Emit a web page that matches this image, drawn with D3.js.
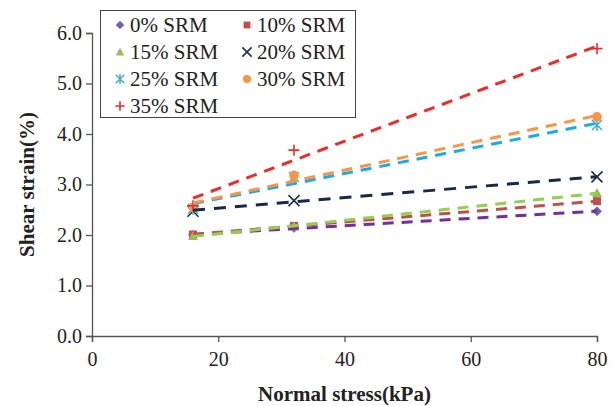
<!DOCTYPE html>
<html>
<head>
<meta charset="utf-8">
<script src="https://cdn.jsdelivr.net/npm/d3@7"></script>
<style>
  html, body { margin: 0; padding: 0; background: #fff; }
  svg { display: block; font-family: "Liberation Serif", "Times New Roman", serif; }
</style>
</head>
<body>
<svg id="chart" width="615" height="406"></svg>
<script>
// Normal stress levels (kPa)
const normalStress = [16, 32, 80];

// Shear strain (%) for each SRM content
const srm0  = [2.00, 2.14, 2.47];
const srm10 = [2.01, 2.18, 2.67];
const srm15 = [1.98, 2.17, 2.83];
const srm20 = [2.47, 2.68, 3.15];
const srm25 = [2.52, 3.15, 4.18];
const srm30 = [2.55, 3.18, 4.34];
const srm35 = [2.58, 3.68, 5.69];

const seriesNames = ["0% SRM", "10% SRM", "15% SRM", "20% SRM", "25% SRM", "30% SRM", "35% SRM"];
const xTicks = [0, 20, 40, 60, 80];
const yTicks = [0, 1, 2, 3, 4, 5, 6];

const series = [
  { name: seriesNames[0], values: srm0,  marker: "diamond",  mColor: "#7360A8", lColor: "#7030A0" },
  { name: seriesNames[1], values: srm10, marker: "square",   mColor: "#C0504D", lColor: "#C0504D" },
  { name: seriesNames[2], values: srm15, marker: "triangle", mColor: "#9BBB59", lColor: "#92D050" },
  { name: seriesNames[3], values: srm20, marker: "x",        mColor: "#1F2F4F", lColor: "#172A48" },
  { name: seriesNames[4], values: srm25, marker: "asterisk", mColor: "#4BACC6", lColor: "#1EAAE6" },
  { name: seriesNames[5], values: srm30, marker: "circle",   mColor: "#F79646", lColor: "#F7964A" },
  { name: seriesNames[6], values: srm35, marker: "plus",     mColor: "#EE2B2B", lColor: "#EE2A2A" }
];

const svg = d3.select("#chart");
const x = d3.scaleLinear().domain([0, 80]).range([92, 597]);
const y = d3.scaleLinear().domain([0, 6]).range([336, 33]);
const axisColor = "#555";

// Axes
const xAxis = svg.append("g").attr("transform", `translate(0,${y(0)})`)
  .call(d3.axisBottom(x).tickValues(xTicks).tickFormat(d3.format("d")).tickSizeOuter(0).tickSize(6).tickPadding(5));
const yAxis = svg.append("g").attr("transform", `translate(${x(0)},0)`)
  .call(d3.axisLeft(y).tickValues(yTicks).tickFormat(d3.format(".1f")).tickSizeOuter(0).tickSize(6).tickPadding(4));
[xAxis, yAxis].forEach(g => {
  g.select(".domain").attr("stroke", axisColor).attr("stroke-width", 1.3);
  g.selectAll(".tick line").attr("stroke", axisColor).attr("stroke-width", 1.3);
  g.selectAll(".tick text").attr("fill", "#222").style("font-size", "20px")
    .style("font-family", "'Liberation Serif', 'Times New Roman', serif");
});
xAxis.selectAll(".tick text").attr("dy", "0.95em");

// Axis titles
svg.append("text").attr("x", (x(0) + x(80)) / 2).attr("y", 401)
  .attr("text-anchor", "middle").attr("font-weight", "bold").attr("font-size", 21).attr("fill", "#222")
  .text("Normal stress(kPa)");
svg.append("text").attr("transform", `translate(34,${(y(0) + y(6)) / 2}) rotate(-90)`)
  .attr("text-anchor", "middle").attr("font-weight", "bold").attr("font-size", 21).attr("fill", "#222")
  .text("Shear strain(%)");

// Least-squares linear trend for each series
function linearFit(xs, ys) {
  const mx = d3.mean(xs), my = d3.mean(ys);
  const sxy = d3.sum(xs, (v, i) => (v - mx) * (ys[i] - my));
  const sxx = d3.sum(xs, v => (v - mx) * (v - mx));
  const b = sxy / sxx;
  return v => my + b * (v - mx);
}

// Marker shapes
function drawMarker(g, type, color, size) {
  const s = size || 1;
  switch (type) {
    case "diamond":
      g.append("path").attr("d", `M0,${-4.5*s}L${4.5*s},0L0,${4.5*s}L${-4.5*s},0Z`).attr("fill", color).attr("stroke", "#5b4a9a").attr("stroke-width", 0.6);
      break;
    case "square":
      g.append("rect").attr("x", -4*s).attr("y", -4*s).attr("width", 8*s).attr("height", 8*s).attr("fill", color);
      break;
    case "triangle":
      g.append("path").attr("d", `M0,${-5*s}L${5*s},${4*s}L${-5*s},${4*s}Z`).attr("fill", color);
      break;
    case "x":
      g.append("path").attr("d", `M${-5.5*s},${-5.5*s}L${5.5*s},${5.5*s}M${5.5*s},${-5.5*s}L${-5.5*s},${5.5*s}`).attr("stroke", color).attr("stroke-width", 1.6);
      break;
    case "asterisk":
      g.append("path").attr("d", `M${-5*s},${-5*s}L${5*s},${5*s}M${5*s},${-5*s}L${-5*s},${5*s}M0,${-6*s}L0,${6*s}`).attr("stroke", color).attr("stroke-width", 1.5);
      break;
    case "circle":
      g.append("circle").attr("r", 4.8*s).attr("fill", color);
      break;
    case "plus":
      g.append("path").attr("d", `M${-5.5*s},0L${5.5*s},0M0,${-5.5*s}L0,${5.5*s}`).attr("stroke", color).attr("stroke-width", 1.6);
      break;
  }
}

// Markers
series.forEach(sr => {
  sr.values.forEach((v, i) => {
    const g = svg.append("g").attr("transform", `translate(${x(normalStress[i])},${y(v)})`);
    drawMarker(g, sr.marker, sr.mColor, 1);
  });
});

// Dashed trendlines
const line = d3.line().x(d => x(d[0])).y(d => y(d[1]));
series.forEach(sr => {
  const f = linearFit(normalStress, sr.values);
  const x0 = d3.min(normalStress), x1 = d3.max(normalStress);
  svg.append("path").datum([[x0, f(x0)], [x1, f(x1)]])
    .attr("d", line).attr("fill", "none").attr("stroke", sr.lColor)
    .attr("stroke-width", 3).attr("stroke-dasharray", sr.marker === "x" ? "12,9" : "11,8");
});

// Legend
const legend = svg.append("g");
legend.append("rect").attr("x", 100.5).attr("y", 10.5).attr("width", 255).attr("height", 107)
  .attr("fill", "#fff").attr("stroke", "#444").attr("stroke-width", 1);
series.forEach((sr, i) => {
  const col = i % 2, row = Math.floor(i / 2);
  const lx = col === 0 ? 120 : 247, ly = 25 + row * 27;
  const g = legend.append("g").attr("transform", `translate(${lx},${ly})`);
  drawMarker(g, sr.marker, sr.mColor, 0.85);
  legend.append("text").attr("x", lx + 10).attr("y", ly + 7).attr("font-size", 21).attr("fill", "#222").text(sr.name);
});
</script>
</body>
</html>
